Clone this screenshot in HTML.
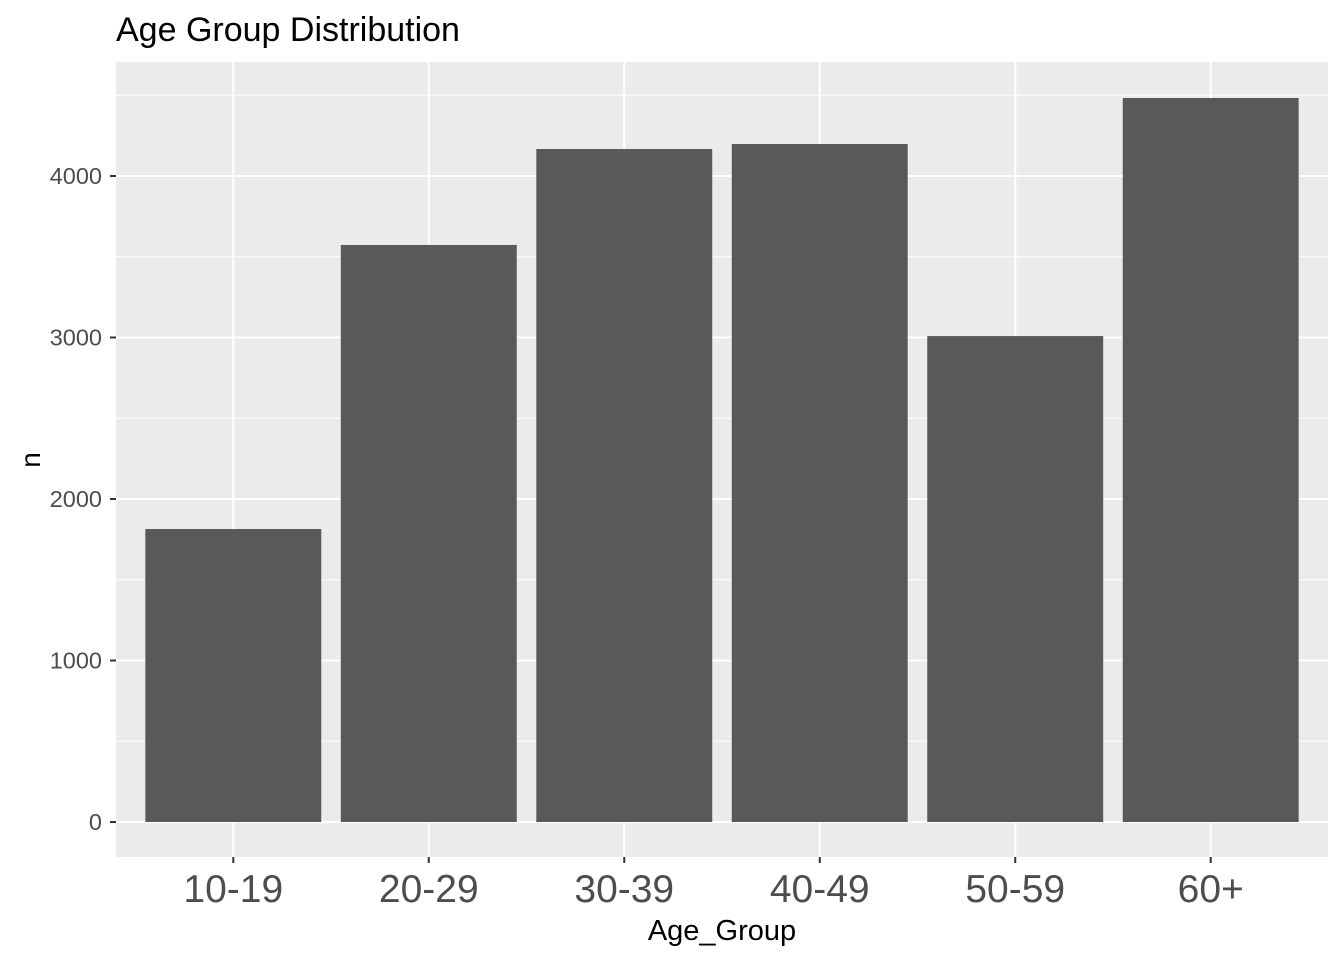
<!DOCTYPE html>
<html><head><meta charset="utf-8"><style>
body{margin:0;background:#fff;}
svg text{font-family:"Liberation Sans",Arial,sans-serif;}
</style></head><body>
<svg id="chart" width="1344" height="960" xmlns="http://www.w3.org/2000/svg">
<text x="116" y="41" font-size="34" fill="#000">Age Group Distribution</text>
<rect x="116" y="62" width="1212" height="795" fill="#ebebeb"/>
<g id="grid"></g><g id="bars"></g><g id="axes"></g>
<text x="722" y="940" font-size="29" text-anchor="middle" fill="#000">Age_Group</text>
<text transform="translate(40,460) rotate(-90)" font-size="28" text-anchor="middle" fill="#000">n</text>
</svg>
<script>
const categories=["10-19","20-29","30-39","40-49","50-59","60+"];
const values=[1814,3573,4167,4198,3009,4483];
const yTicks=[0,1000,2000,3000,4000];
const yMinor=[500,1500,2500,3500,4500];
const NS="http://www.w3.org/2000/svg";
const px0=116,px1=1328,py0=62,py1=857;
function y(v){return 822-v*(822-176)/4000;}
const step=(px1-px0)/(categories.length+0.2);
function x(i){return px0+step*(i+0.6);}
function mk(t,a,p){const e=document.createElementNS(NS,t);for(const k in a)e.setAttribute(k,a[k]);p.appendChild(e);return e;}
const g=document.getElementById('grid'),b=document.getElementById('bars'),ax=document.getElementById('axes');
yMinor.forEach(v=>{if(y(v)<py0)return;const l=mk('line',{x1:px0,x2:px1,y1:y(v),y2:y(v),stroke:'#fff','stroke-width':1},g);

});
yTicks.forEach(v=>{const l=mk('line',{x1:px0,x2:px1,y1:y(v),y2:y(v),stroke:'#fff','stroke-width':2},g);


const t=mk('line',{x1:110,x2:116,y1:y(v),y2:y(v),stroke:'#333','stroke-width':2},ax);


const tx=mk('text',{x:102,y:y(v)+8,'font-size':23.5,'text-anchor':'end',fill:'#4d4d4d'},ax);tx.textContent=v;

});
categories.forEach((c,i)=>{const cx=x(i);
const l=mk('line',{x1:cx,x2:cx,y1:py0,y2:py1,stroke:'#fff','stroke-width':2},g);


const w=step*0.9;
const r=mk('rect',{x:cx-w/2,y:y(values[i]),width:w,height:y(0)-y(values[i]),fill:'#595959'},b);


const t=mk('line',{x1:cx,x2:cx,y1:857,y2:863,stroke:'#333','stroke-width':2},ax);


const tx=mk('text',{x:cx,y:902,'font-size':39,'text-anchor':'middle',fill:'#4d4d4d'},ax);tx.textContent=c;

});
</script>
</body></html>
